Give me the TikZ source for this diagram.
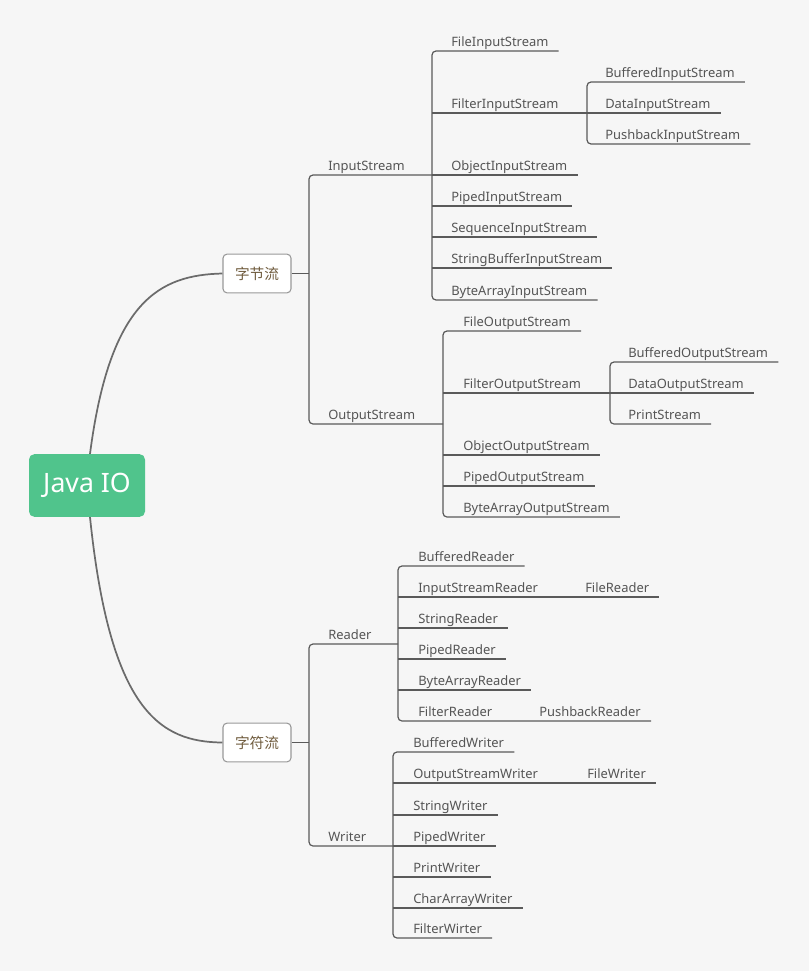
\documentclass[tikz,border=0pt]{standalone}
\usepackage{fontspec}
\setmainfont{Noto Sans}
\newfontfamily\cjk{Noto Sans CJK SC}
\usetikzlibrary{calc,positioning}
\definecolor{bggray}{RGB}{246,246,246}
\definecolor{linegray}{RGB}{90,90,90}
\definecolor{textgray}{RGB}{85,85,85}
\definecolor{rootgreen}{RGB}{80,196,140}
\definecolor{boxbrown}{RGB}{112,92,62}
\tikzset{
  leaf/.style={anchor=south west,inner xsep=0pt,inner ysep=0pt,text depth=3.2pt,
    font=\fontsize{9.7}{12}\selectfont,text=textgray},
  branch/.style={draw=linegray,line width=0.9pt},
  bracket/.style={branch,rounded corners=3pt},
  curve/.style={draw=linegray!90,line width=1.3pt},
  catbox/.style={draw=gray!80,fill=white,rounded corners=3pt,line width=0.8pt,
    minimum width=51pt,minimum height=29pt,font=\cjk\fontsize{11}{13}\selectfont,text=boxbrown}
}
\begin{document}
\begin{tikzpicture}[x=0.75pt,y=-0.75pt]
  \fill[bggray] (0,0) rectangle (809,971);
  \useasboundingbox (0,0) rectangle (809,971);

  \node[fill=rootgreen,rounded corners=4pt,minimum width=87pt,minimum height=47pt,
    text=white,font=\fontsize{20}{24}\selectfont] (root) at (87,485.5) {Java IO};
  \node[catbox] (bytes) at (257,273.5) {字节流};
  \node[catbox] (chars) at (257,742.5) {字符流};
  \draw[curve] ($(root.north)+(3,0)$) .. controls (110,300) and (160,275) .. (bytes.west);
  \draw[curve] ($(root.south)+(3,0)$) .. controls (110,711) and (160,742) .. (chars.west);

  % byte streams
  \coordinate (b1) at (309,273.5);
  \node[leaf] (is) at (328,175) {InputStream};
  \node[leaf] (os) at (328,424) {OutputStream};
  \coordinate (ib) at (432,175);
  \coordinate (ob) at (443,424);
  \draw[branch] (bytes.east) -- (b1);
  \draw[bracket] (ib |- is.south) -- (b1 |- is.south) -- (b1 |- os.south) -- (ob |- os.south);

  \node[leaf] (fis) at (451,51) {FileInputStream};
  \node[leaf] (filis) at (451,113) {FilterInputStream};
  \node[leaf] (ois) at (451,175) {ObjectInputStream};
  \node[leaf] (pis) at (451,206) {PipedInputStream};
  \node[leaf] (sis) at (451,237) {SequenceInputStream};
  \node[leaf] (sbis) at (451,268) {StringBufferInputStream};
  \node[leaf] (bais) at (451,300) {ByteArrayInputStream};
  \draw[bracket] ($(fis.south east)+(10,0)$) -- (ib |- fis.south) -- (ib |- bais.south)
    -- ($(bais.south east)+(10,0)$);
  \draw[branch] (ib |- ois.south) -- ($(ois.south east)+(10,0)$);
  \draw[branch] (ib |- pis.south) -- ($(pis.south east)+(10,0)$);
  \draw[branch] (ib |- sis.south) -- ($(sis.south east)+(10,0)$);
  \draw[branch] (ib |- sbis.south) -- ($(sbis.south east)+(10,0)$);

  \coordinate (fb) at (587,113);
  \node[leaf] (bis) at (605,82) {BufferedInputStream};
  \node[leaf] (dis) at (605,113) {DataInputStream};
  \node[leaf] (pbis) at (605,144) {PushbackInputStream};
  \draw[branch] (ib |- filis.south) -- (fb);
  \draw[bracket] ($(bis.south east)+(10,0)$) -- (fb |- bis.south) -- (fb |- pbis.south)
    -- ($(pbis.south east)+(10,0)$);
  \draw[branch] (fb |- dis.south) -- ($(dis.south east)+(10,0)$);

  \node[leaf] (fos) at (463,331) {FileOutputStream};
  \node[leaf] (filos) at (463,393) {FilterOutputStream};
  \node[leaf] (oos) at (463,455) {ObjectOutputStream};
  \node[leaf] (pos) at (463,486) {PipedOutputStream};
  \node[leaf] (baos) at (463,517) {ByteArrayOutputStream};
  \draw[bracket] ($(fos.south east)+(10,0)$) -- (ob |- fos.south) -- (ob |- baos.south)
    -- ($(baos.south east)+(10,0)$);
  \draw[branch] (ob |- oos.south) -- ($(oos.south east)+(10,0)$);
  \draw[branch] (ob |- pos.south) -- ($(pos.south east)+(10,0)$);

  \coordinate (fob) at (610,393);
  \node[leaf] (bos) at (628,362) {BufferedOutputStream};
  \node[leaf] (dos) at (628,393) {DataOutputStream};
  \node[leaf] (ps) at (628,424) {PrintStream};
  \draw[branch] (ob |- filos.south) -- (fob);
  \draw[bracket] ($(bos.south east)+(10,0)$) -- (fob |- bos.south) -- (fob |- ps.south)
    -- ($(ps.south east)+(10,0)$);
  \draw[branch] (fob |- dos.south) -- ($(dos.south east)+(10,0)$);

  % character streams
  \coordinate (b2) at (309,742.5);
  \node[leaf] (rd) at (328,644) {Reader};
  \node[leaf] (wr) at (328,846) {Writer};
  \coordinate (rb) at (398,644);
  \coordinate (wb) at (393,846);
  \draw[branch] (chars.east) -- (b2);
  \draw[bracket] (rb |- rd.south) -- (b2 |- rd.south) -- (b2 |- wr.south) -- (wb |- wr.south);

  \node[leaf] (br) at (418,566) {BufferedReader};
  \node[leaf] (isr) at (418,597) {InputStreamReader};
  \node[leaf] (sr) at (418,628) {StringReader};
  \node[leaf] (pr) at (418,659) {PipedReader};
  \node[leaf] (bar) at (418,690) {ByteArrayReader};
  \node[leaf] (fr) at (418,721) {FilterReader};
  \node[leaf] (frd) at (585,597) {FileReader};
  \node[leaf] (pbr) at (539,721) {PushbackReader};
  \draw[bracket] ($(br.south east)+(10,0)$) -- (rb |- br.south) -- (rb |- fr.south)
    -- ($(pbr.south east)+(10,0)$);
  \draw[branch] (rb |- isr.south) -- ($(frd.south east)+(10,0)$);
  \draw[branch] (rb |- sr.south) -- ($(sr.south east)+(10,0)$);
  \draw[branch] (rb |- pr.south) -- ($(pr.south east)+(10,0)$);
  \draw[branch] (rb |- bar.south) -- ($(bar.south east)+(10,0)$);

  \node[leaf] (bw) at (413,752) {BufferedWriter};
  \node[leaf] (osw) at (413,783) {OutputStreamWriter};
  \node[leaf] (sw) at (413,815) {StringWriter};
  \node[leaf] (pw) at (413,846) {PipedWriter};
  \node[leaf] (prw) at (413,877) {PrintWriter};
  \node[leaf] (caw) at (413,908) {CharArrayWriter};
  \node[leaf] (fw) at (413,938) {FilterWirter};
  \node[leaf] (fwr) at (587,783) {FileWriter};
  \draw[bracket] ($(bw.south east)+(10,0)$) -- (wb |- bw.south) -- (wb |- fw.south)
    -- ($(fw.south east)+(10,0)$);
  \draw[branch] (wb |- osw.south) -- ($(fwr.south east)+(10,0)$);
  \draw[branch] (wb |- sw.south) -- ($(sw.south east)+(10,0)$);
  \draw[branch] (wb |- pw.south) -- ($(pw.south east)+(10,0)$);
  \draw[branch] (wb |- prw.south) -- ($(prw.south east)+(10,0)$);
  \draw[branch] (wb |- caw.south) -- ($(caw.south east)+(10,0)$);
\end{tikzpicture}
\end{document}
